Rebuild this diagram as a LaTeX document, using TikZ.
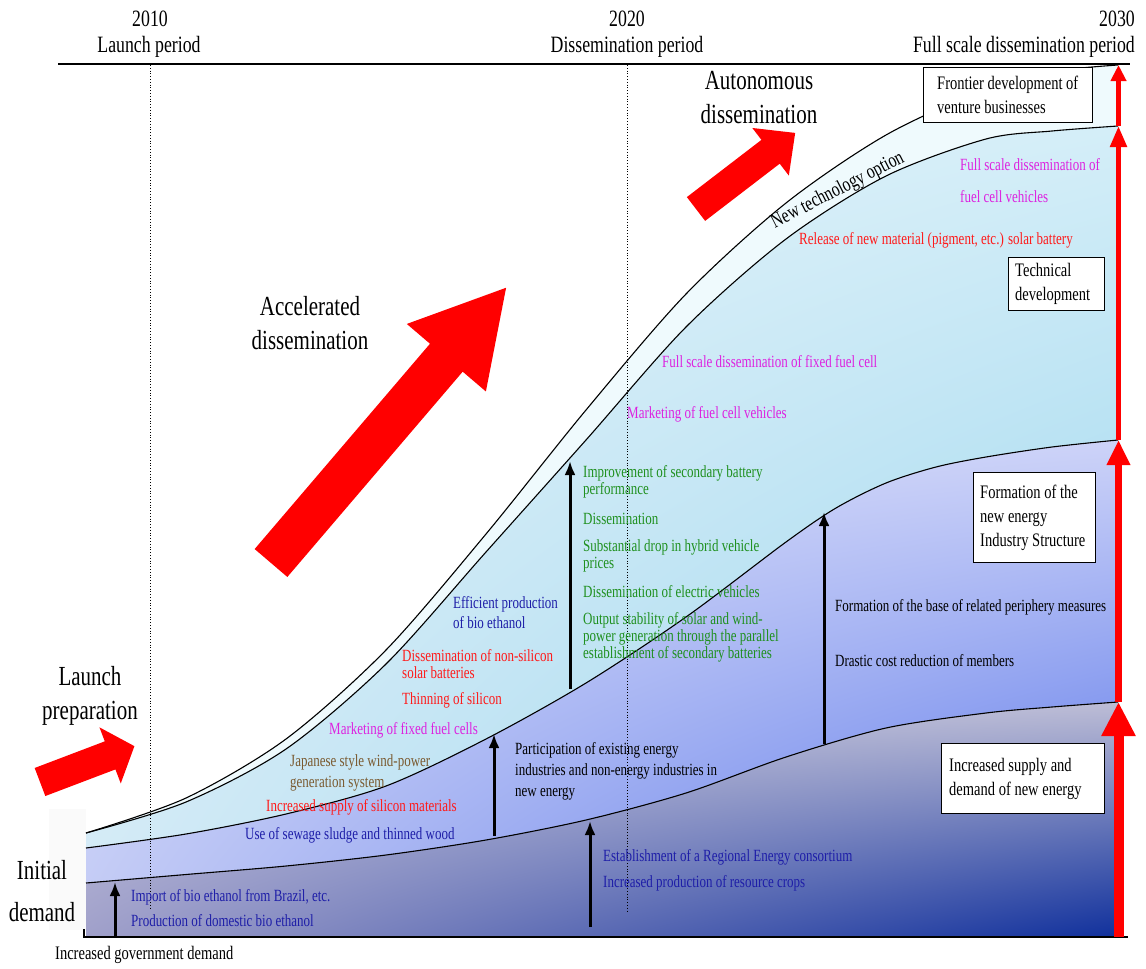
\documentclass[tikz,border=0pt]{standalone}
\usepackage{fontspec}
\setmainfont[FakeStretch=0.76]{Liberation Serif}
\usetikzlibrary{arrows.meta,shadings}
\definecolor{tblue}{HTML}{1E1EA8}
\definecolor{tred}{HTML}{FF1A1A}
\definecolor{tmag}{HTML}{DD22E0}
\definecolor{tgreen}{HTML}{1F901F}
\definecolor{tbrown}{HTML}{7A5A30}
\definecolor{bandc}{HTML}{EFFAFD}
\definecolor{lbUL}{RGB}{234,245,251}
\definecolor{lbUR}{RGB}{212,238,248}
\definecolor{lbLL}{RGB}{210,234,246}
\definecolor{lbLR}{RGB}{140,207,234}
\definecolor{lvUL}{RGB}{220,224,250}
\definecolor{lvUR}{RGB}{205,211,248}
\definecolor{lvLL}{RGB}{194,202,245}
\definecolor{lvLR}{RGB}{72,104,232}
\definecolor{gyUL}{RGB}{202,202,223}
\definecolor{gyUR}{RGB}{189,189,214}
\definecolor{gyLL}{RGB}{160,160,202}
\definecolor{gyLR}{RGB}{16,48,156}
\begin{document}
\begin{tikzpicture}[x=1pt,y=-1pt,
  lbl/.style={anchor=west, inner sep=0pt, align=left, font=\fontsize{17.1}{17}\selectfont},
  bigt/.style={align=center, inner sep=0pt, font=\fontsize{27.6}{34}\selectfont},
  hdr/.style={inner sep=0pt, font=\fontsize{23.4}{25}\selectfont},
  boxst/.style={draw=black, line width=1.2pt, fill=white, anchor=north west, inner sep=0pt},
  boxtxt/.style={anchor=west, inner sep=0pt, align=left, font=\fontsize{19.1}{24}\selectfont},
  barrow/.style={line width=3pt, -{Latex[length=14pt,width=11pt]}},
  curveline/.style={line width=1.1pt},
  blockarr/.style={fill=red},
  vline/.style={dotted, line width=0.8pt}]
\useasboundingbox (0,0) rectangle (1146,969);

% faint backdrop of "Initial demand"
\fill[black!2] (49,809) rectangle (86,930);

% ---- filled regions ----
\fill[bandc] (86,937) -- plot[smooth] coordinates {(86,833) (186,798) (286,739) (386,650) (486,534) (586,410) (686,294) (786,203) (886,135) (986,89) (1052,71.5) (1118,65)} -- (1118,937) -- cycle;
\shade[upper left=lbUL, upper right=lbUR, lower left=lbLL, lower right=lbLR]
  (86,937) -- plot[smooth] coordinates {(86,833) (186,802) (286,749) (386,664) (486,552) (586,440) (686,327) (786,239) (886,176) (986,139) (1052,131) (1118,126)} -- (1118,937) -- cycle;
\shade[upper left=lvUL, upper right=lvUR, lower left=lvLL, lower right=lvLR]
  (86,937) -- plot[smooth] coordinates {(86,848) (186,834) (286,814) (386,786) (486,739) (586,683) (686,617) (786,542) (836,508) (886,483) (936,467) (986,457) (1052,447) (1118,440)} -- (1118,937) -- cycle;
\shade[upper left=gyUL, upper right=gyUR, lower left=gyLL, lower right=gyLR]
  (86,937) -- plot[smooth] coordinates {(86,883) (186,874.5) (286,866) (386,855) (486,840) (586,820) (686,793) (786,757) (886,728) (986,713) (1052,707) (1118,702)} -- (1118,937) -- cycle;

% ---- curve lines ----
\draw[curveline] plot[smooth] coordinates {(86,833) (186,798) (286,739) (386,650) (486,534) (586,410) (686,294) (786,203) (886,135) (986,89) (1052,71.5) (1118,65)};
\draw[curveline] plot[smooth] coordinates {(86,833) (186,802) (286,749) (386,664) (486,552) (586,440) (686,327) (786,239) (886,176) (986,139) (1052,131) (1118,126)};
\draw[curveline] plot[smooth] coordinates {(86,848) (186,834) (286,814) (386,786) (486,739) (586,683) (686,617) (786,542) (836,508) (886,483) (936,467) (986,457) (1052,447) (1118,440)};
\draw[curveline] plot[smooth] coordinates {(86,883) (186,874.5) (286,866) (386,855) (486,840) (586,820) (686,793) (786,757) (886,728) (986,713) (1052,707) (1118,702)};

% ---- axes and period lines ----
\draw[line width=1.5pt] (58,64) -- (1130,64);
\draw[line width=1.2pt] (84,929) -- (84,937) -- (1128,937);
\draw[vline] (150,65) -- (150,910);
\draw[vline] (627,65) -- (627,912);

% ---- headers ----
\node[hdr, anchor=base] (y2010) at (150,27) {2010};
\node[hdr, anchor=base] (p2010) at (149,52) {Launch period};
\node[hdr, anchor=base] (y2020) at (627,27) {2020};
\node[hdr, anchor=base] (p2020) at (627,52) {Dissemination period};
\node[hdr, anchor=base east] (y2030) at (1135,27) {2030};
\node[hdr, anchor=base east] (p2030) at (1135,52) {Full scale dissemination period};

% ---- big phase labels ----
\node[bigt] (initd) at (42,891) {Initial\\[8pt]demand};
\node[bigt] (launchp) at (90,696) {Launch\\preparation};
\node[bigt] (accel) at (310,323) {Accelerated\\dissemination};
\node[bigt] (auton) at (759,98) {Autonomous\\dissemination};

% ---- block arrows ----
\fill[blockarr, shift={(40,782)}, rotate=20.8] (0,-15) -- (75,-15) -- (75,-30) -- (101,0) -- (75,30) -- (75,15) -- (0,15) -- cycle;
\fill[blockarr, shift={(271,563)}, rotate=49.5] (0,-21.5) -- (270,-21.5) -- (270,-52) -- (362,0) -- (270,52) -- (270,21.5) -- (0,21.5) -- cycle;
\fill[blockarr, shift={(696,209)}, rotate=37.5] (0,-15) -- (94,-15) -- (94,-30) -- (125,0) -- (94,30) -- (94,15) -- (0,15) -- cycle;

% ---- band label ----
\node[inner sep=0pt, anchor=base, rotate=27, font=\fontsize{20.5}{22}\selectfont] (newtech) at (840,195) {New technology option};

% ---- coloured item labels ----
\node[lbl, text=tmag] (fsfcv) at (960,180.5) {Full scale dissemination of\\[15pt]fuel cell vehicles};
\node[lbl, text=tred] (relmat) at (799,240) {Release of new material (pigment, etc.) solar battery};
\node[lbl, text=tmag] (fsffc) at (662,362) {Full scale dissemination of fixed fuel cell};
\node[lbl, text=tmag] (mfcv) at (627,414) {Marketing of fuel cell vehicles};
\node[lbl, text=tgreen] (g1) at (583,481.5) {Improvement of secondary battery\\performance};
\node[lbl, text=tgreen] (g2) at (583,519) {Dissemination};
\node[lbl, text=tgreen] (g3) at (583,555.5) {Substantial drop in hybrid vehicle\\prices};
\node[lbl, text=tgreen] (g4) at (583,592) {Dissemination of electric vehicles};
\node[lbl, text=tgreen] (g5) at (583,637) {Output stability of solar and wind-\\power generation through the parallel\\establishment of secondary batteries};
\node[lbl, text=tblue] (effbio) at (453,613) {Efficient production\\[3pt]of bio ethanol};
\node[lbl, text=tred] (nonsil) at (402,664.5) {Dissemination of non-silicon\\solar batteries};
\node[lbl, text=tred] (thin) at (402,700) {Thinning of silicon};
\node[lbl, text=tmag] (mffc) at (329,730) {Marketing of fixed fuel cells};
\node[lbl, text=tbrown] (jpwind) at (290,773) {Japanese style wind-power\\[4pt]generation system};
\node[lbl, text=tred] (silsup) at (266,807) {Increased supply of silicon materials};
\node[lbl, text=tblue] (sewage) at (245,835) {Use of sewage sludge and thinned wood};
\node[lbl] (partic) at (515,771) {Participation of existing energy\\[4pt]industries and non-energy industries in\\[4pt]new energy};
\node[lbl] (periph) at (835,607) {Formation of the base of related periphery measures};
\node[lbl] (drastic) at (835,661) {Drastic cost reduction of members};
\node[lbl, text=tblue] (region) at (603,857) {Establishment of a Regional Energy consortium};
\node[lbl, text=tblue] (crops) at (603,883) {Increased production of resource crops};
\node[lbl, text=tblue] (import) at (131,897) {Import of bio ethanol from Brazil, etc.};
\node[lbl, text=tblue] (domest) at (131,921) {Production of domestic bio ethanol};
\node[boxtxt] (govdem) at (55,955) {Increased government demand};

% ---- boxes ----
\node[boxst, minimum width=169, minimum height=55] (fbox) at (923,67) {};
\node[boxtxt] (ftxt) at ([xshift=14pt]fbox.west) {Frontier development of\\venture businesses};
\node[boxst, minimum width=96, minimum height=53] (tbox) at (1008,257) {};
\node[boxtxt] (ttxt) at ([xshift=7pt]tbox.west) {Technical\\development};
\node[boxst, minimum width=122, minimum height=90] (nbox) at (973,472) {};
\node[boxtxt] (ntxt) at ([xshift=7pt]nbox.west) {Formation of the\\new energy\\Industry Structure};
\node[boxst, minimum width=163, minimum height=70] (sbox) at (941,743) {};
\node[boxtxt] (stxt) at ([xshift=8pt]sbox.west) {Increased supply and\\demand of new energy};

% ---- black arrows ----
\coordinate (a1s) at (115,937); \coordinate (a1e) at (115,882);
\coordinate (a2s) at (494,836); \coordinate (a2e) at (494,734);
\coordinate (a3s) at (590,927); \coordinate (a3e) at (590,821);
\coordinate (a4s) at (570,689); \coordinate (a4e) at (570,461);
\coordinate (a5s) at (824,744); \coordinate (a5e) at (824,512);
\draw[barrow] (a1s) -- (a1e);
\draw[barrow] (a2s) -- (a2e);
\draw[barrow] (a3s) -- (a3e);
\draw[barrow] (a4s) -- (a4e);
\draw[barrow] (a5s) -- (a5e);

% ---- red vertical arrows ----
\coordinate (r0) at (1118.5,937);
\coordinate (r1) at (1118.5,702);
\coordinate (r2) at (1118.5,440);
\coordinate (r3) at (1118.5,126);
\coordinate (r4) at (1118.5,65);
\draw[red, line width=5pt, -{Triangle[length=16pt,width=15pt]}] (r3) -- (r4);
\draw[red, line width=5pt, -{Triangle[length=21pt,width=16pt]}] (r2) -- (r3);
\draw[red, line width=7pt, -{Triangle[length=25pt,width=22pt]}] (r1) -- (r2);
\draw[red, line width=10pt, -{Triangle[length=34pt,width=32pt]}] (r0) -- (r1);
\end{tikzpicture}
\end{document}
